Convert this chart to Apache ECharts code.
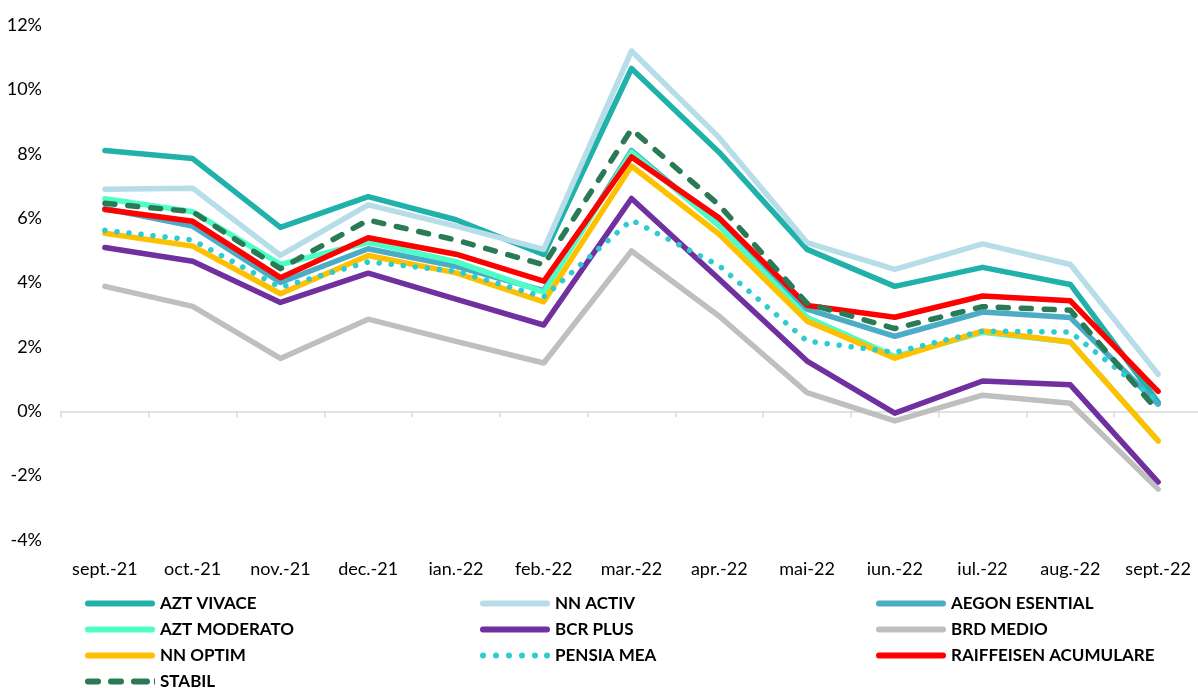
<!DOCTYPE html>
<html>
<head>
<meta charset="utf-8">
<script src="https://cdn.jsdelivr.net/npm/echarts@6/dist/echarts.min.js"></script>
<style>
html,body{margin:0;padding:0;background:#fff;}
#chart{width:1198px;height:688px;}
</style>
</head>
<body>
<div id="chart"></div>
<script>
const categories = ["sept.-21","oct.-21","nov.-21","dec.-21","ian.-22","feb.-22","mar.-22","apr.-22","mai-22","iun.-22","iul.-22","aug.-22","sept.-22"];
const aztVivace      = [8.10, 7.85, 5.71, 6.67, 5.95, 4.87, 10.65, 8.04, 5.03, 3.88, 4.47, 3.94, 0.28];
const nnActiv        = [6.90, 6.93, 4.84, 6.41, 5.75, 5.03, 11.19, 8.50, 5.24, 4.41, 5.20, 4.56, 1.15];
const aegonEsential  = [6.30, 5.75, 4.00, 5.05, 4.50, 3.75, 8.10, 5.80, 3.17, 2.33, 3.08, 2.91, 0.22];
const aztModerato    = [6.60, 6.20, 4.56, 5.25, 4.65, 3.70, 8.05, 5.75, 2.92, 1.70, 2.45, 2.15, -0.92];
const bcrPlus        = [5.09, 4.66, 3.38, 4.29, 3.48, 2.68, 6.61, 4.10, 1.56, -0.06, 0.94, 0.82, -2.20];
const brdMedio       = [3.88, 3.26, 1.64, 2.86, 2.17, 1.50, 4.98, 2.95, 0.58, -0.30, 0.50, 0.25, -2.42];
const nnOptim        = [5.53, 5.13, 3.65, 4.84, 4.30, 3.40, 7.62, 5.50, 2.80, 1.65, 2.49, 2.15, -0.92];
const pensiaMea      = [5.62, 5.32, 3.85, 4.64, 4.35, 3.55, 5.94, 4.52, 2.18, 1.83, 2.49, 2.46, 0.30];
const raiffeisen     = [6.27, 5.90, 4.15, 5.39, 4.88, 4.04, 7.90, 6.00, 3.29, 2.92, 3.58, 3.43, 0.62];
const stabil         = [6.46, 6.20, 4.43, 5.94, 5.32, 4.55, 8.76, 6.40, 3.35, 2.57, 3.25, 3.14, 0.00];
const yTicks = [-4, -2, 0, 2, 4, 6, 8, 10, 12];

const ICON_SOLID = "path://M3,0 L67,0 A3,3 0 0 1 67,6 L3,6 A3,3 0 0 1 3,0 Z";
const ICON_DASH = "path://M3,0 L13,0 A3,3 0 0 1 13,6 L3,6 A3,3 0 0 1 3,0 Z M26,0 L36,0 A3,3 0 0 1 36,6 L26,6 A3,3 0 0 1 26,0 Z M49,0 L62,0 A3,3 0 0 1 62,6 L49,6 A3,3 0 0 1 49,0 Z M69,0 L70,0 L70,6 L69,6 Z";
const ICON_DOT = "path://M0,3 A3,3 0 1 0 6,3 A3,3 0 1 0 0,3 Z M13,3 A3,3 0 1 0 19,3 A3,3 0 1 0 13,3 Z M26,3 A3,3 0 1 0 32,3 A3,3 0 1 0 26,3 Z M39,3 A3,3 0 1 0 45,3 A3,3 0 1 0 39,3 Z M52,3 A3,3 0 1 0 58,3 A3,3 0 1 0 52,3 Z M64,3 A3,3 0 1 0 70,3 A3,3 0 1 0 64,3 Z";

const seriesDefs = [
  {name:"AZT VIVACE", data:aztVivace, color:"#20b2aa", type:"solid", icon:ICON_SOLID},
  {name:"NN ACTIV", data:nnActiv, color:"#b7dde8", type:"solid", icon:ICON_SOLID},
  {name:"AEGON ESENTIAL", data:aegonEsential, color:"#4bacc6", type:"solid", icon:ICON_SOLID},
  {name:"AZT MODERATO", data:aztModerato, color:"#4dffc6", type:"solid", icon:ICON_SOLID},
  {name:"BCR PLUS", data:bcrPlus, color:"#7030a0", type:"solid", icon:ICON_SOLID},
  {name:"BRD MEDIO", data:brdMedio, color:"#bfbfbf", type:"solid", icon:ICON_SOLID},
  {name:"NN OPTIM", data:nnOptim, color:"#ffc000", type:"solid", icon:ICON_SOLID},
  {name:"PENSIA MEA", data:pensiaMea, color:"#2ecbd0", type:[0.1, 12], icon:ICON_DOT},
  {name:"RAIFFEISEN ACUMULARE", data:raiffeisen, color:"#ff0000", type:"solid", icon:ICON_SOLID},
  {name:"STABIL", data:stabil, color:"#2a7a56", type:[10, 13], icon:ICON_DASH}
];

const series = seriesDefs.map(s => ({
  name: s.name,
  type: "line",
  xAxisIndex: 0,
  data: s.data,
  symbol: "none",
  showSymbol: false,
  smooth: false,
  color: s.color,
  lineStyle: {color: s.color, width: 5.5, type: s.type, cap: "round", join: "round"},
  emphasis: {disabled: true}
}));

function legendData(names) {
  return names.map(n => {
    const d = seriesDefs.find(s => s.name === n);
    return {name: n, icon: d.icon, itemStyle: {color: d.color}};
  });
}

const legendCommon = {
  orient: "vertical",
  top: 589,
  height: 110,
  itemWidth: 70,
  itemHeight: 6,
  itemGap: 7,
  symbolKeepAspect: false,
  selectedMode: false,
  textStyle: {fontFamily: "Lato", fontWeight: "bold", fontSize: 17, lineHeight: 19, color: "#000"}
};

const chart = echarts.init(document.getElementById("chart"), null, {renderer: "canvas"});
chart.setOption({
  animation: false,
  backgroundColor: "#fff",
  grid: {left: 61, top: 25, width: 1141, height: 515, containLabel: false, outerBoundsMode: "none"},
  xAxis: [
    {
      type: "category",
      data: categories,
      boundaryGap: true,
      position: "bottom",
      axisLine: {onZero: true, lineStyle: {color: "#d9d9d9", width: 1.5}},
      axisTick: {show: true, length: 6, lineStyle: {color: "#d9d9d9", width: 1.5}},
      axisLabel: {show: false},
      splitLine: {show: false}
    },
    {
      type: "category",
      data: categories,
      boundaryGap: true,
      position: "bottom",
      axisLine: {show: false, onZero: false},
      axisTick: {show: false},
      axisLabel: {show: true, margin: 20, color: "#000", fontFamily: "Lato", fontSize: 18, interval: 0},
      splitLine: {show: false}
    }
  ],
  yAxis: {
    type: "value",
    min: yTicks[0],
    max: yTicks[yTicks.length - 1],
    interval: 2,
    axisLine: {show: false},
    axisTick: {show: false},
    splitLine: {show: false},
    axisLabel: {margin: 19, color: "#000", fontFamily: "Lato", fontSize: 18, formatter: v => v + "%"}
  },
  legend: [
    Object.assign({}, legendCommon, {left: 80, data: legendData(["AZT VIVACE","AZT MODERATO","NN OPTIM","STABIL"])}),
    Object.assign({}, legendCommon, {left: 475, data: legendData(["NN ACTIV","BCR PLUS","PENSIA MEA"])}),
    Object.assign({}, legendCommon, {left: 871, data: legendData(["AEGON ESENTIAL","BRD MEDIO","RAIFFEISEN ACUMULARE"])})
  ],
  series: series
});
</script>
</body>
</html>
